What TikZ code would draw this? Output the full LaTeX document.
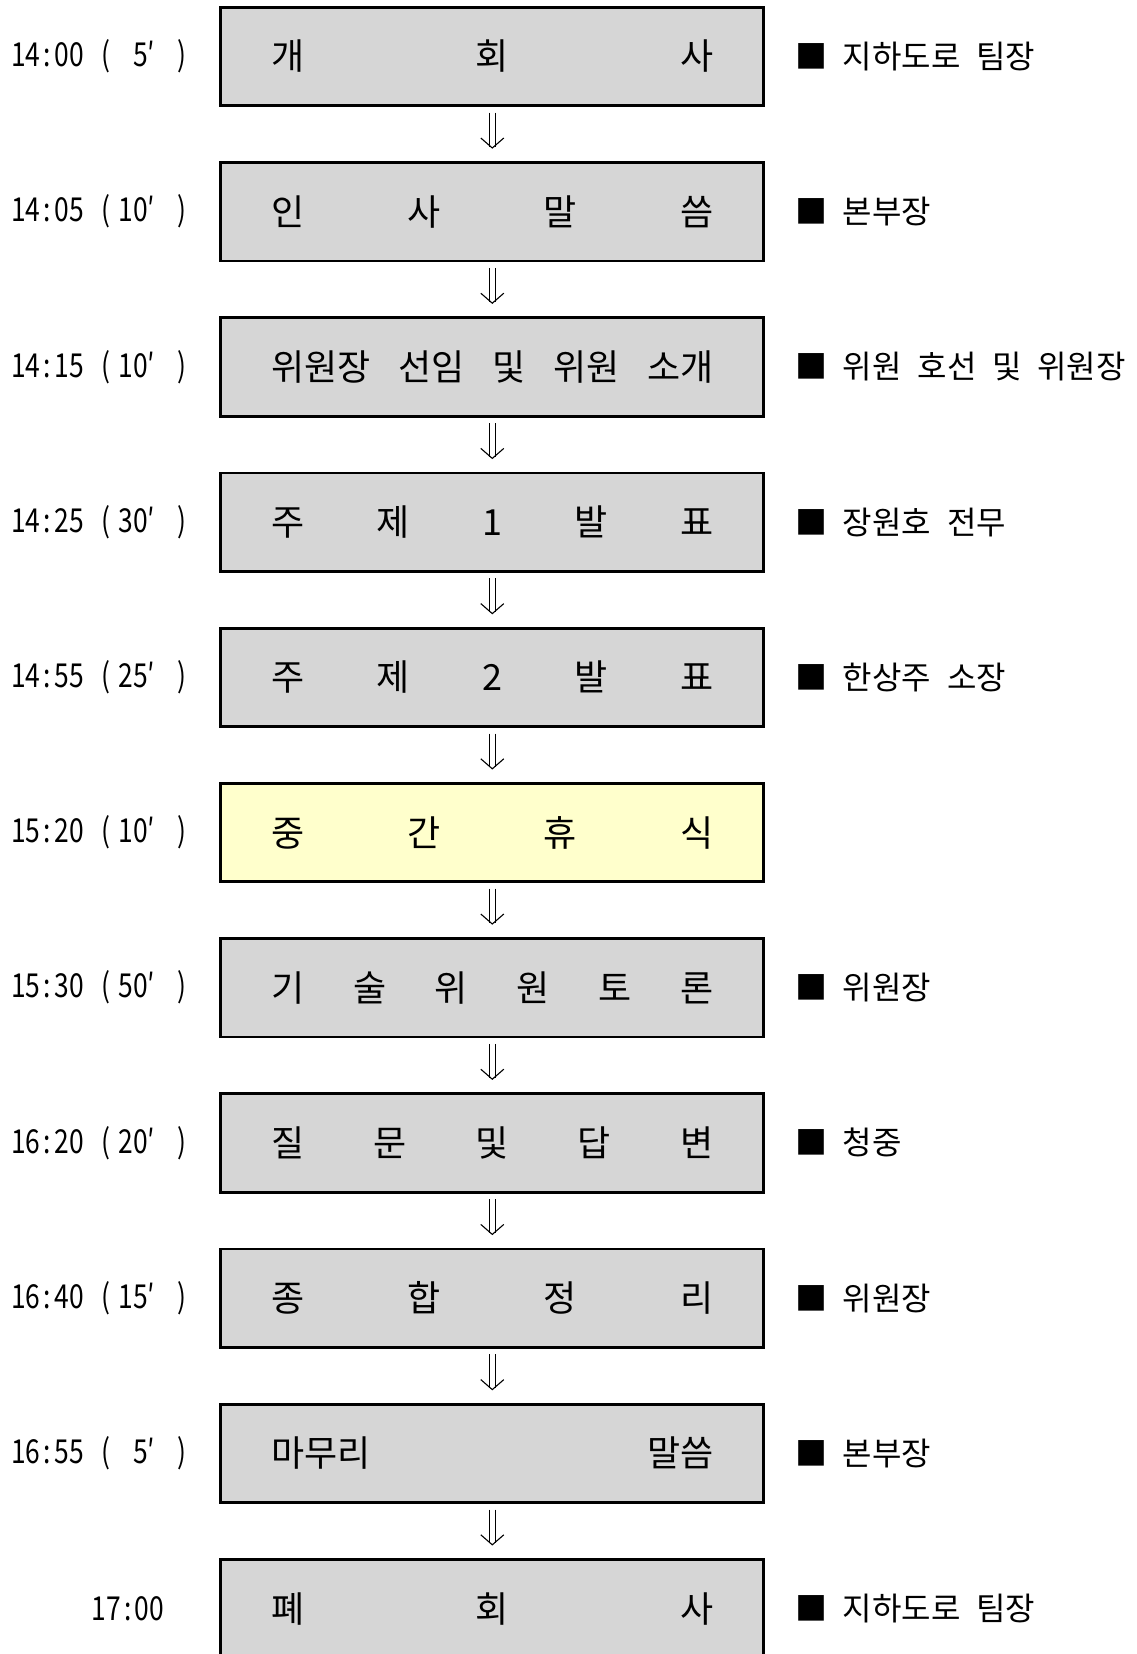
\documentclass[tikz,border=0pt]{standalone}
\usepackage{fontspec}
\setmainfont{Noto Sans CJK KR}[WordSpace=2.2]
\newfontfamily\timefont{Noto Sans CJK KR}[FakeStretch=0.8]
\definecolor{boxgray}{RGB}{214,214,214}
\definecolor{breakyellow}{RGB}{255,255,204}
\newcommand\stagetext[1]{\hbox to 442pt{#1}}
\newcommand\clock[2]{#1\makebox[14pt]{:}#2}
\newcommand\tlabel[3]{\makebox[88pt][l]{\clock{#1}{#2}}\makebox[14pt]{(}\makebox[42pt][r]{#3′}\makebox[53pt]{)}}
\begin{document}
\begin{tikzpicture}[x=1pt,y=-1pt,
  stage/.style={draw=black, line width=2.8pt, fill=boxgray, minimum width=543pt, minimum height=98.4pt, inner sep=0pt, outer sep=0pt, font=\fontsize{36}{42}\selectfont},
  brk/.style={stage, fill=breakyellow},
  timelbl/.style={anchor=west, inner sep=0pt, font=\timefont\fontsize{33}{38}\selectfont},
  who/.style={anchor=west, inner sep=0pt, font=\fontsize{32}{38}\selectfont},
  flowline/.style={line width=1.1pt, line join=miter}]
\useasboundingbox[fill=white] (0,0) rectangle (1136,1654);
\clip (0,0) rectangle (1136,1654);
% stages
\node[stage] (b0) at (492.3,56.5) {\stagetext{개\hfill 회\hfill 사}};
\node[stage] (b1) at (492.3,211.7) {\stagetext{인\hfill 사\hfill 말\hfill 씀}};
\node[stage] (b2) at (492.3,366.9) {\stagetext{위원장\hfill 선임\hfill 및\hfill 위원\hfill 소개}};
\node[stage] (b3) at (492.3,522.1) {\stagetext{주\hfill 제\hfill 1\hfill 발\hfill 표}};
\node[stage] (b4) at (492.3,677.3) {\stagetext{주\hfill 제\hfill 2\hfill 발\hfill 표}};
\node[brk]   (b5) at (492.3,832.5) {\stagetext{중\hfill 간\hfill 휴\hfill 식}};
\node[stage] (b6) at (492.3,987.7) {\stagetext{기\hfill 술\hfill 위\hfill 원\hfill 토\hfill 론}};
\node[stage] (b7) at (492.3,1142.9) {\stagetext{질\hfill 문\hfill 및\hfill 답\hfill 변}};
\node[stage] (b8) at (492.3,1298.1) {\stagetext{종\hfill 합\hfill 정\hfill 리}};
\node[stage] (b9) at (492.3,1453.3) {\stagetext{마무리\hfill 말씀}};
\node[stage] (b10) at (492.3,1608.5) {\stagetext{폐\hfill 회\hfill 사}};
% times
\node[timelbl] (t0) at (11,56.5) {\tlabel{14}{00}{5}};
\node[timelbl] (t1) at (11,211.7) {\tlabel{14}{05}{10}};
\node[timelbl] (t2) at (11,366.9) {\tlabel{14}{15}{10}};
\node[timelbl] (t3) at (11,522.1) {\tlabel{14}{25}{30}};
\node[timelbl] (t4) at (11,677.3) {\tlabel{14}{55}{25}};
\node[timelbl] (t5) at (11,832.5) {\tlabel{15}{20}{10}};
\node[timelbl] (t6) at (11,987.7) {\tlabel{15}{30}{50}};
\node[timelbl] (t7) at (11,1142.9) {\tlabel{16}{20}{20}};
\node[timelbl] (t8) at (11,1298.1) {\tlabel{16}{40}{15}};
\node[timelbl] (t9) at (11,1453.3) {\tlabel{16}{55}{5}};
\node[timelbl, anchor=center] (t10) at (128,1608.5) {\clock{17}{00}};
% responsible persons
\node[who] (w0) at (795,56.5) {■ 지하도로 팀장};
\node[who] (w1) at (795,211.7) {■ 본부장};
\node[who] (w2) at (795,366.9) {■ 위원 호선 및 위원장};
\node[who] (w3) at (795,522.1) {■ 장원호 전무};
\node[who] (w4) at (795,677.3) {■ 한상주 소장};
\node[who] (w6) at (795,987.7) {■ 위원장};
\node[who] (w7) at (795,1142.9) {■ 청중};
\node[who] (w8) at (795,1298.1) {■ 위원장};
\node[who] (w9) at (795,1453.3) {■ 본부장};
\node[who] (w10) at (795,1608.5) {■ 지하도로 팀장};
% arrows
\foreach \i/\j in {0/1,1/2,2/3,3/4,4/5,5/6,6/7,7/8,8/9,9/10}{
  \draw[flowline] ([xshift=-3pt,yshift=-7pt]b\i.south) -- ([xshift=-3pt,yshift=16pt]b\j.north);
  \draw[flowline] ([xshift=3pt,yshift=-7pt]b\i.south) -- ([xshift=3pt,yshift=16pt]b\j.north);
  \draw[flowline] ([xshift=-11.5pt,yshift=24.5pt]b\j.north) -- ([yshift=14.5pt]b\j.north) -- ([xshift=11.5pt,yshift=24.5pt]b\j.north);
}
\end{tikzpicture}
\end{document}
